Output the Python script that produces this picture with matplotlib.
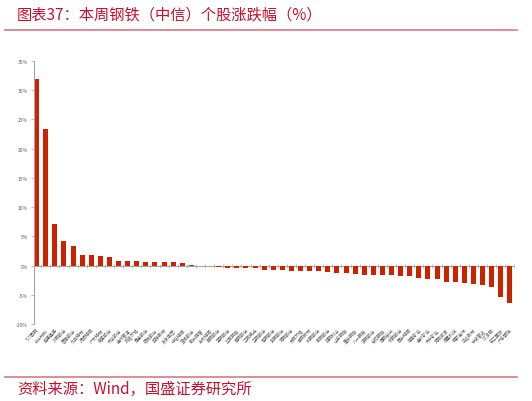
import matplotlib as mpl
mpl.use('Agg')
import matplotlib.pyplot as plt
import numpy as np

plt.rcParams['font.family'] = ['Noto Sans CJK SC', 'DejaVu Sans']
plt.rcParams['axes.unicode_minus'] = False

# stock names (labels in reference are too small to read, plausible names)
names = ['*ST西钢', '永兴材料', '盛德鑫泰', '沙钢股份', '图南股份', '久立特材', '抚顺特钢',
         '广大特材', '常宝股份', '大业股份', '金洲管道', '武进不锈', '甬金股份', '银龙股份',
         '翔楼新材', '友发集团', '中信特钢', '玉龙股份', '新兴铸管', '方大特钢', '首钢股份',
         '宝钢股份', '华菱钢铁', '南钢股份', '三钢闽光', '马钢股份', '包钢股份', '鞍钢股份',
         '河钢股份', '太钢不锈', '本钢板材', '柳钢股份', '新钢股份', '韶钢松山', '山东钢铁',
         '重庆钢铁', '八一钢铁', '凌钢股份', '安阳钢铁', '酒钢宏兴', '杭钢股份', '西宁特钢',
         '海南矿业', '金岭矿业', '大中矿业', '河钢资源', '恒星科技', '钢研高纳', '华达新材',
         '宁波富达', 'ST凌钢', '天工国际', '广东明珠']
changes = [31.9, 23.4, 7.2, 4.3, 3.3, 1.9, 1.75, 1.65, 1.55, 0.85, 0.85, 0.85, 0.68,
           0.63, 0.57, 0.57, 0.45, 0.05, 0.02, -0.03,
           -0.28, -0.4, -0.4, -0.45, -0.45, -0.74, -0.74, -0.74, -0.85, -0.85, -0.97,
           -0.97, -1.02, -1.25, -1.25, -1.37,
           -1.59, -1.65, -1.65, -1.65, -1.82, -1.82, -2.05, -2.28, -2.33, -2.73, -2.84,
           -2.96, -3.13, -3.30, -3.58, -5.29, -6.43]
yticks = [-10, -5, 0, 5, 10, 15, 20, 25, 30, 35]

title = '图表37：本周钢铁（中信）个股涨跌幅（%）'
source = '资料来源：Wind，国盛证券研究所'
red = '#C8102E'
bar_red = '#CC2200'

fig = plt.figure(figsize=(5.32, 4.02), dpi=100)
ax = fig.add_axes([0.063, 0.191, 0.903, 0.655])

x = np.arange(len(names))
ax.bar(x, changes, width=0.55, color=bar_red)

# zero line with small category ticks
ax.axhline(0, color='#a6a6a6', lw=0.8, zorder=0)
edges = np.arange(len(names) + 1) - 0.5
ax.plot(edges, np.zeros_like(edges), ls='none', marker='|', ms=2.5,
        mew=0.5, color='#a6a6a6', zorder=0)

ax.set_xlim(-0.35, len(names) - 0.55)
ax.set_ylim(-10, 35)
ax.set_yticks(yticks)
ax.set_yticklabels([f'{v}%' for v in yticks], fontsize=3.5, color='#595959')
ax.set_xticks(x)
ax.set_xticklabels(names, rotation=45, ha='right', rotation_mode='anchor',
                   fontsize=3.2, color='#595959')
ax.tick_params(axis='x', length=0, pad=2)
ax.tick_params(axis='y', length=2, width=0.5, color='#a6a6a6', pad=2)
for s in ['top', 'right', 'bottom']:
    ax.spines[s].set_visible(False)
ax.spines['left'].set_color('#a6a6a6')
ax.spines['left'].set_linewidth(0.8)

fig.text(0.032, 0.962, title, fontsize=11, color=red, style='italic',
         fontweight='light', ha='left', va='center')
fig.add_artist(plt.Line2D([0.01, 0.972], [0.923, 0.923], color='#D87A82',
                          lw=1.2, transform=fig.transFigure))
fig.add_artist(plt.Line2D([0.01, 0.972], [0.06, 0.06], color='#D87A82',
                          lw=1.2, transform=fig.transFigure))
fig.text(0.032, 0.03, source, fontsize=11, color=red, style='italic',
         fontweight='light', ha='left', va='center')

fig.savefig('out.png', dpi=100)
